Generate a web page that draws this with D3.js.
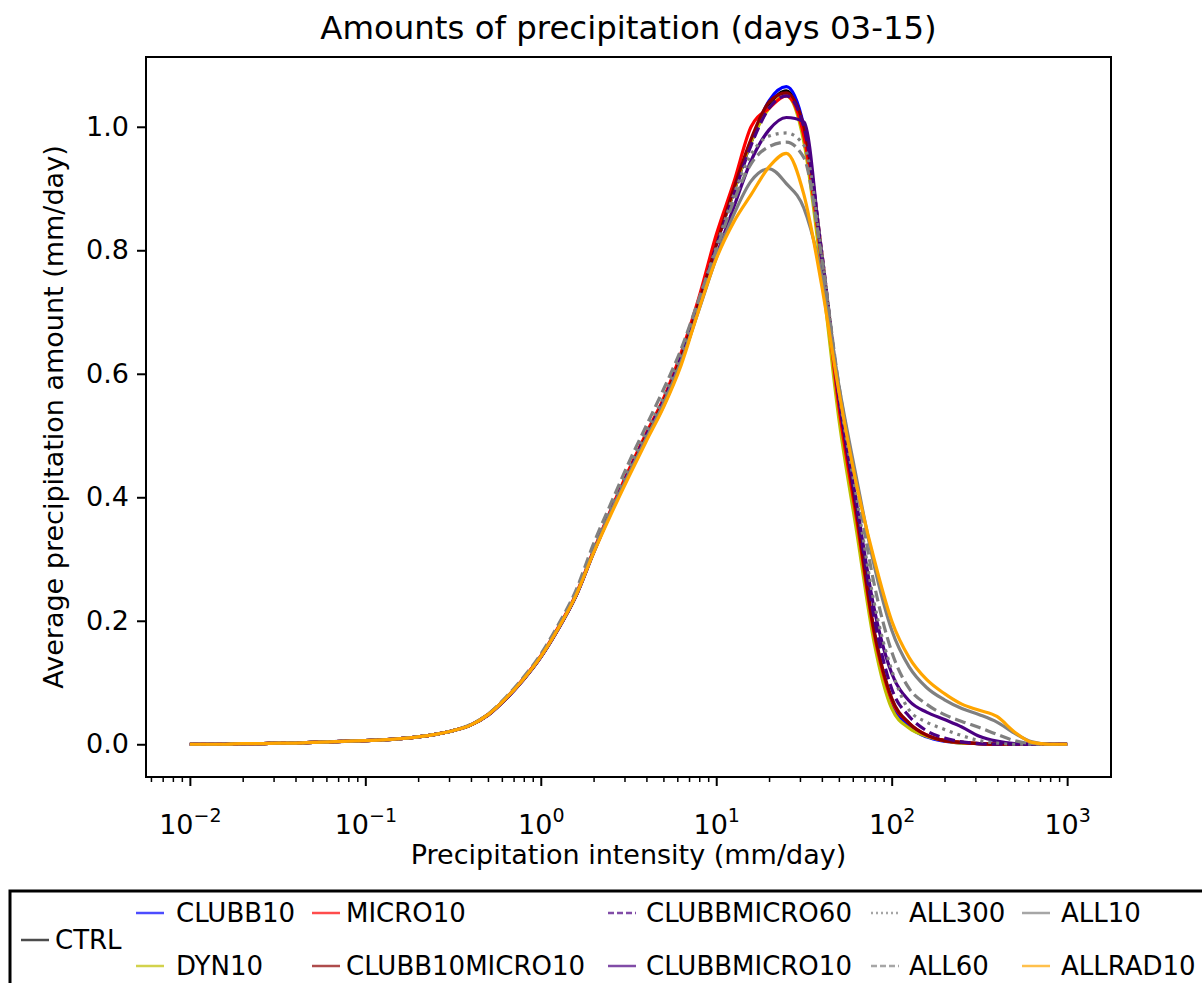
<!DOCTYPE html>
<html>
<head>
<meta charset="utf-8">
<script src="https://cdn.jsdelivr.net/npm/d3@7"></script>
<style>
  html, body { margin: 0; padding: 0; background: #fff; }
  svg text { font-family: "DejaVu Sans", sans-serif; fill: #000; }
</style>
</head>
<body>
<svg id="chart" width="1202" height="983"></svg>
<script>
// ---------------- data ----------------
const intensity = [0.01,0.0126,0.0158,0.02,0.0251,0.0316,0.0398,0.0501,0.0631,0.0794,
  0.1,0.126,0.158,0.2,0.251,0.316,0.398,0.501,0.631,0.794,
  1,1.26,1.58,2,2.51,3.16,3.98,5.01,6.31,7.94,
  10,12.6,15.8,20,25.1,31.6,39.8,50.1,63.1,79.4,
  100,126,158,200,251,316,398,501,631,794,1000];

const CTRL = [0,0,0,0.001,0.001,0.002,0.002,0.003,0.004,0.005,
  0.006,0.007,0.009,0.012,0.016,0.022,0.031,0.048,0.074,0.105,
  0.142,0.188,0.240,0.312,0.378,0.440,0.500,0.556,0.628,0.715,
  0.810,0.895,0.975,1.035,1.058,0.990,0.790,0.550,0.370,0.180,
  0.070,0.032,0.014,0.006,0.003,0.001,0,0,0,0,0];
const CLUBB10 = [0,0,0,0.001,0.001,0.002,0.002,0.003,0.004,0.005,
  0.006,0.007,0.009,0.012,0.016,0.022,0.031,0.047,0.073,0.104,
  0.141,0.187,0.239,0.311,0.377,0.439,0.499,0.556,0.628,0.715,
  0.810,0.895,0.975,1.042,1.065,1.000,0.790,0.550,0.368,0.175,
  0.065,0.028,0.012,0.005,0.002,0.001,0,0,0,0,0];
const DYN10 = [0,0,0,0.001,0.001,0.002,0.002,0.003,0.004,0.005,
  0.006,0.007,0.009,0.012,0.016,0.022,0.031,0.048,0.074,0.105,
  0.142,0.188,0.240,0.312,0.378,0.441,0.501,0.558,0.630,0.717,
  0.812,0.895,0.975,1.030,1.050,0.975,0.765,0.525,0.345,0.165,
  0.058,0.026,0.013,0.006,0.002,0.001,0,0,0,0,0];
const MICRO10 = [0,0,0,0.001,0.001,0.002,0.002,0.003,0.004,0.005,
  0.006,0.007,0.009,0.012,0.016,0.022,0.031,0.048,0.074,0.106,
  0.143,0.190,0.242,0.314,0.380,0.443,0.503,0.560,0.634,0.722,
  0.825,0.910,1.000,1.030,1.050,0.985,0.785,0.545,0.365,0.180,
  0.072,0.034,0.015,0.006,0.003,0.001,0,0,0,0,0];
const CLUBB10MICRO10 = [0,0,0,0.001,0.001,0.002,0.002,0.003,0.004,0.005,
  0.006,0.007,0.009,0.012,0.016,0.022,0.031,0.047,0.073,0.104,
  0.141,0.187,0.239,0.311,0.376,0.438,0.498,0.555,0.627,0.714,
  0.808,0.900,0.980,1.040,1.055,1.000,0.800,0.560,0.375,0.185,
  0.075,0.034,0.015,0.006,0.003,0.001,0,0,0,0,0];
const CLUBBMICRO60 = [0,0,0,0.001,0.001,0.002,0.002,0.003,0.004,0.005,
  0.006,0.007,0.009,0.012,0.016,0.022,0.031,0.048,0.074,0.105,
  0.142,0.188,0.240,0.312,0.378,0.440,0.500,0.556,0.628,0.713,
  0.805,0.890,0.970,1.030,1.050,1.000,0.800,0.565,0.385,0.205,
  0.090,0.045,0.022,0.010,0.004,0.001,0,0,0,0,0];
const CLUBBMICRO10 = [0,0,0,0.001,0.001,0.002,0.002,0.003,0.004,0.005,
  0.006,0.007,0.009,0.012,0.016,0.022,0.031,0.048,0.073,0.104,
  0.141,0.187,0.239,0.310,0.375,0.436,0.494,0.548,0.618,0.705,
  0.790,0.870,0.945,0.995,1.015,1.008,0.790,0.560,0.390,0.220,
  0.115,0.070,0.052,0.040,0.028,0.013,0.005,0.001,0,0,0];
const ALL300 = [0,0,0,0.001,0.001,0.002,0.002,0.003,0.004,0.005,
  0.006,0.007,0.009,0.012,0.016,0.022,0.031,0.048,0.074,0.106,
  0.143,0.190,0.243,0.316,0.382,0.445,0.505,0.562,0.632,0.718,
  0.805,0.890,0.955,0.985,0.990,0.970,0.800,0.570,0.400,0.230,
  0.120,0.055,0.036,0.024,0.014,0.006,0.002,0,0,0,0];
const ALL60 = [0,0,0,0.001,0.001,0.002,0.002,0.003,0.004,0.005,
  0.006,0.007,0.009,0.012,0.016,0.022,0.032,0.049,0.076,0.108,
  0.146,0.194,0.248,0.325,0.390,0.455,0.515,0.575,0.640,0.720,
  0.800,0.880,0.940,0.968,0.975,0.950,0.790,0.580,0.420,0.260,
  0.150,0.090,0.065,0.048,0.037,0.027,0.016,0.006,0.001,0,0];
const ALL10 = [0,0,0,0.001,0.001,0.002,0.002,0.003,0.004,0.005,
  0.006,0.007,0.009,0.012,0.016,0.022,0.031,0.048,0.074,0.105,
  0.142,0.188,0.240,0.312,0.377,0.437,0.495,0.552,0.620,0.702,
  0.787,0.858,0.912,0.932,0.908,0.868,0.760,0.580,0.430,0.290,
  0.185,0.125,0.092,0.072,0.058,0.048,0.036,0.018,0.004,0,0];
const ALLRAD10 = [0,0,0,0.001,0.001,0.002,0.002,0.003,0.004,0.005,
  0.006,0.007,0.009,0.012,0.016,0.022,0.031,0.048,0.074,0.105,
  0.142,0.188,0.240,0.310,0.372,0.432,0.490,0.546,0.614,0.703,
  0.786,0.846,0.890,0.935,0.957,0.890,0.745,0.570,0.420,0.300,
  0.200,0.140,0.105,0.082,0.065,0.055,0.045,0.020,0.003,0,0];

const seriesNames = ["CTRL","CLUBB10","DYN10","MICRO10","CLUBB10MICRO10","CLUBBMICRO60",
  "CLUBBMICRO10","ALL300","ALL60","ALL10","ALLRAD10"];
const seriesValues = [CTRL, CLUBB10, DYN10, MICRO10, CLUBB10MICRO10, CLUBBMICRO60,
  CLUBBMICRO10, ALL300, ALL60, ALL10, ALLRAD10];
const seriesColors = ["#000000","#0000ff","#bfbf00","#ff0000","#8b0000","#4b0082",
  "#4b0082","#808080","#808080","#808080","#ffa500"];
const seriesDash = ["solid","solid","solid","solid","solid","dashed",
  "solid","dotted","dashed","solid","solid"];

const yTicks = [0.0, 0.2, 0.4, 0.6, 0.8, 1.0];
const xTickExponents = [-2, -1, 0, 1, 2, 3];

const titleText = "Amounts of precipitation (days 03-15)";
const xLabelText = "Precipitation intensity (mm/day)";
const yLabelText = "Average precipitation amount (mm/day)";

// ---------------- layout ----------------
const plot = {left: 146, right: 1111, top: 57, bottom: 777};
const svg = d3.select("#chart");

const x = d3.scaleLog().domain([Math.pow(10, -2.25), Math.pow(10, 3.25)]).range([plot.left, plot.right]);
const y = d3.scaleLinear().domain([-0.053, 1.113]).range([plot.bottom, plot.top]);

const FS = 27;

svg.append("defs").append("clipPath").attr("id", "clip")
  .append("rect").attr("x", plot.left).attr("y", plot.top)
  .attr("width", plot.right - plot.left).attr("height", plot.bottom - plot.top);

// lines
const dashFor = {solid: null, dashed: "11,5", dotted: "3,5"};
const line = d3.line().x((d, i) => x(intensity[i])).y(d => y(d)).curve(d3.curveMonotoneX);
const gLines = svg.append("g").attr("clip-path", "url(#clip)");
seriesValues.forEach((vals, k) => {
  gLines.append("path")
    .attr("d", line(vals))
    .attr("fill", "none")
    .attr("stroke", seriesColors[k])
    .attr("stroke-width", 3.2)
    .attr("stroke-linejoin", "round")
    .attr("stroke-dasharray", dashFor[seriesDash[k]]);
});

// axes
const yAxis = d3.axisLeft(y).tickValues(yTicks).tickSize(9).tickPadding(8).tickFormat(d3.format(".1f"));
const gy = svg.append("g").attr("transform", `translate(${plot.left},0)`).call(yAxis);
gy.select(".domain").remove();
gy.selectAll(".tick line").attr("stroke", "#000").attr("stroke-width", 2);
gy.selectAll(".tick text").attr("font-size", FS).attr("font-family", "DejaVu Sans").attr("fill", "#000");

const minorVals = [];
for (let e = -3; e <= 3; e++) for (let m = 2; m <= 9; m++) {
  const v = m * Math.pow(10, e);
  if (v >= x.domain()[0] && v <= x.domain()[1]) minorVals.push(v);
}
const xMinor = d3.axisBottom(x).tickValues(minorVals).tickSize(5).tickFormat("");
const gxm = svg.append("g").attr("transform", `translate(0,${plot.bottom})`).call(xMinor);
gxm.select(".domain").remove();
gxm.selectAll(".tick line").attr("stroke", "#000").attr("stroke-width", 1.5);

const xMajor = d3.axisBottom(x).tickValues(xTickExponents.map(e => Math.pow(10, e))).tickSize(9).tickFormat("");
const gx = svg.append("g").attr("transform", `translate(0,${plot.bottom})`).call(xMajor);
gx.select(".domain").remove();
gx.selectAll(".tick line").attr("stroke", "#000").attr("stroke-width", 2);
gx.selectAll(".tick").each(function(d, i) {
  const t = d3.select(this).append("text")
    .attr("y", 57).attr("text-anchor", "middle").attr("font-size", FS).attr("fill", "#000");
  t.append("tspan").text("10");
  t.append("tspan").attr("dy", -12).attr("font-size", 19)
    .text(xTickExponents[i] < 0 ? "\u2212" + Math.abs(xTickExponents[i]) : String(xTickExponents[i]));
});

svg.append("rect").attr("x", plot.left).attr("y", plot.top)
  .attr("width", plot.right - plot.left).attr("height", plot.bottom - plot.top)
  .attr("fill", "none").attr("stroke", "#000").attr("stroke-width", 2);

svg.append("text").attr("x", (plot.left + plot.right) / 2).attr("y", 39)
  .attr("text-anchor", "middle").attr("font-size", 32.4).text(titleText);
svg.append("text").attr("x", (plot.left + plot.right) / 2).attr("y", 864)
  .attr("text-anchor", "middle").attr("font-size", FS).text(xLabelText);
svg.append("text").attr("transform", `translate(63,${(plot.top + plot.bottom) / 2}) rotate(-90)`)
  .attr("text-anchor", "middle").attr("font-size", FS).text(yLabelText);

// legend
const legendBox = {x: 10, y: 891};
svg.append("rect").attr("x", legendBox.x).attr("y", legendBox.y)
  .attr("width", 1210).attr("height", 140)
  .attr("fill", "#fff").attr("stroke", "#000").attr("stroke-width", 3);

const colHandleX = [21, 136, 312, 608, 871, 1022];
const colTextX   = [55, 176, 346, 646, 909, 1061];
const rowY = [913, 966, 940];
const legendSlots = [[0,2],[1,0],[1,1],[2,0],[2,1],[3,0],[3,1],[4,0],[4,1],[5,0],[5,1]];
const legendDash = {solid: null, dashed: "6,3", dotted: "2,3"};
const gLeg = svg.append("g");
seriesNames.forEach((name, k) => {
  const [c, r] = legendSlots[k];
  const yy = rowY[r];
  gLeg.append("line")
    .attr("x1", colHandleX[c]).attr("x2", colHandleX[c] + 28)
    .attr("y1", yy).attr("y2", yy)
    .attr("stroke", seriesColors[k]).attr("stroke-width", 2.5)
    .attr("stroke-opacity", 0.7)
    .attr("stroke-dasharray", legendDash[seriesDash[k]]);
  gLeg.append("text").attr("x", colTextX[c]).attr("y", yy).attr("dy", "0.36em")
    .attr("font-size", 26).text(name);
});
</script>
</body>
</html>
